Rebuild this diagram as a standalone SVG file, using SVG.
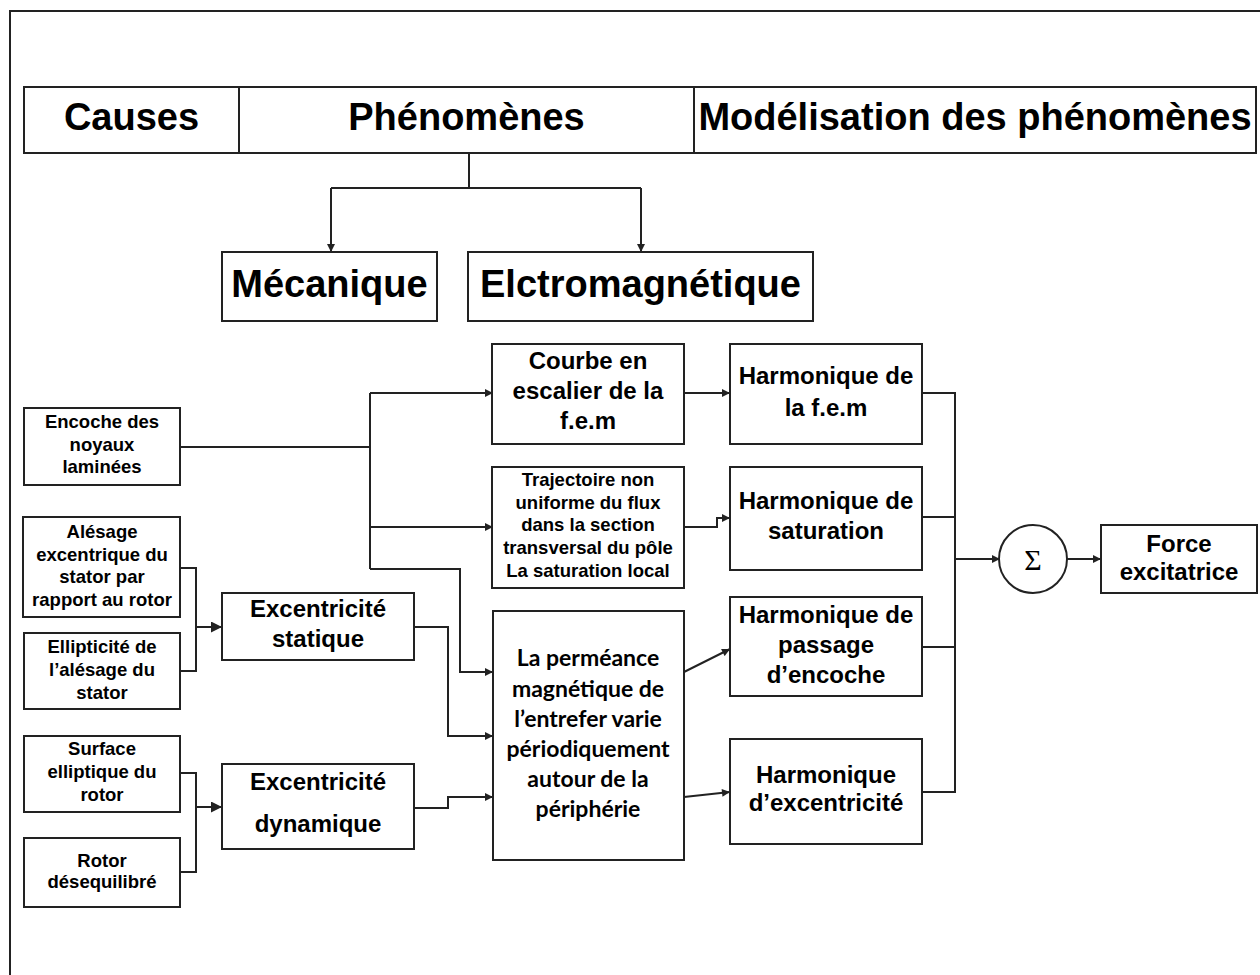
<svg xmlns="http://www.w3.org/2000/svg" width="1260" height="975" viewBox="0 0 1260 975">
<style>
.box{fill:#fff;stroke:#222;stroke-width:2}
.c{fill:none;stroke:#222;stroke-width:2}
.t{font-family:"Liberation Sans",Arial,sans-serif;font-weight:bold;fill:#000;text-anchor:middle}
.h{font-size:38px}
.m{font-size:24px}
.s{font-size:18.5px}
.p{font-family:Lato,"Liberation Sans",sans-serif;font-weight:bold;font-size:23px;fill:#000;text-anchor:middle}
</style>
<defs>
<marker id="a" viewBox="0 0 10 10" markerUnits="userSpaceOnUse" markerWidth="9" markerHeight="8" refX="10" refY="5" orient="auto"><path d="M0,0 L10,5 L0,10 z" fill="#222"/></marker>
<marker id="b" viewBox="0 0 10 10" markerUnits="userSpaceOnUse" markerWidth="12" markerHeight="11" refX="10" refY="5" orient="auto"><path d="M0,0 L10,5 L0,10 z" fill="#222"/></marker>
</defs>
<rect x="0" y="0" width="1260" height="975" fill="#fff"/>
<rect x="10" y="11" width="1260" height="980" fill="none" stroke="#222" stroke-width="2"/>

<g id="header">
<rect class="box" x="24" y="87" width="1232" height="66"/>
<line class="c" x1="239" y1="87" x2="239" y2="153"/>
<line class="c" x1="694" y1="87" x2="694" y2="153"/>
<text class="t h" x="131.5" y="130">Causes</text>
<text class="t h" x="466.5" y="130">Phénomènes</text>
<text class="t h" x="975" y="130">Modélisation des phénomènes</text>
</g>

<g id="connectors">
<path class="c" d="M469,153 V188 M331,188 H641"/>
<path class="c" d="M331,188 V252" marker-end="url(#a)"/>
<path class="c" d="M641,188 V252" marker-end="url(#a)"/>
<path class="c" d="M180,447 H370 M370,393 V569"/>
<path class="c" d="M370,393 H493" marker-end="url(#a)"/>
<path class="c" d="M370,527 H493" marker-end="url(#a)"/>
<path class="c" d="M370,569 H460 V672 H493" marker-end="url(#a)"/>
<path class="c" d="M684,393 H730" marker-end="url(#a)"/>
<path class="c" d="M684,527 H717 V518 H730" marker-end="url(#a)"/>
<path class="c" d="M180,568 H196 V671 H180"/>
<path class="c" d="M196,627 H222" marker-end="url(#b)"/>
<path class="c" d="M414,627 H448 V736 H493" marker-end="url(#a)"/>
<path class="c" d="M180,773 H196 V872 H180"/>
<path class="c" d="M196,807 H222" marker-end="url(#b)"/>
<path class="c" d="M414,808 H448 V797 H493" marker-end="url(#a)"/>
<path class="c" d="M684,672 L730,649" marker-end="url(#a)"/>
<path class="c" d="M684,797 L730,792" marker-end="url(#a)"/>
<path class="c" d="M922,393 H955 V792 H922 M922,517 H955 M922,647 H955"/>
<path class="c" d="M955,559 H1000" marker-end="url(#a)"/>
<path class="c" d="M1067,559 H1101" marker-end="url(#a)"/>
</g>

<g id="mecanique">
<rect class="box" x="222" y="252" width="215" height="69"/>
<text class="t h" x="329.5" y="297">Mécanique</text>
</g>
<g id="electromagnetique">
<rect class="box" x="468" y="252" width="345" height="69"/>
<text class="t h" x="640.5" y="297">Elctromagnétique</text>
</g>

<g id="encoche">
<rect class="box" x="24" y="408" width="156" height="77"/>
<text class="t s" x="102" y="428">Encoche des</text>
<text class="t s" x="102" y="451">noyaux</text>
<text class="t s" x="102" y="473">laminées</text>
</g>
<g id="alesage">
<rect class="box" x="23" y="517" width="157" height="100"/>
<text class="t s" x="102" y="538">Alésage</text>
<text class="t s" x="102" y="561">excentrique du</text>
<text class="t s" x="102" y="583">stator par</text>
<text class="t s" x="102" y="606">rapport au rotor</text>
</g>
<g id="ellipticite">
<rect class="box" x="24" y="633" width="156" height="76"/>
<text class="t s" x="102" y="653">Ellipticité de</text>
<text class="t s" x="102" y="676">l’alésage du</text>
<text class="t s" x="102" y="699">stator</text>
</g>
<g id="surface">
<rect class="box" x="24" y="736" width="156" height="76"/>
<text class="t s" x="102" y="755">Surface</text>
<text class="t s" x="102" y="778">elliptique du</text>
<text class="t s" x="102" y="801">rotor</text>
</g>
<g id="rotor">
<rect class="box" x="24" y="838" width="156" height="69"/>
<text class="t s" x="102" y="867">Rotor</text>
<text class="t s" x="102" y="888">désequilibré</text>
</g>

<g id="exc-statique">
<rect class="box" x="222" y="593" width="192" height="67"/>
<text class="t m" x="318" y="617">Excentricité</text>
<text class="t m" x="318" y="647">statique</text>
</g>
<g id="exc-dynamique">
<rect class="box" x="222" y="764" width="192" height="85"/>
<text class="t m" x="318" y="790">Excentricité</text>
<text class="t m" x="318" y="832">dynamique</text>
</g>

<g id="courbe">
<rect class="box" x="492" y="344" width="192" height="100"/>
<text class="t m" x="588" y="369">Courbe en</text>
<text class="t m" x="588" y="399">escalier de la</text>
<text class="t m" x="588" y="429">f.e.m</text>
</g>
<g id="trajectoire">
<rect class="box" x="492" y="467" width="192" height="121"/>
<text class="t s" x="588" y="486">Trajectoire non</text>
<text class="t s" x="588" y="509">uniforme du flux</text>
<text class="t s" x="588" y="531">dans la section</text>
<text class="t s" x="588" y="554">transversal du pôle</text>
<text class="t s" x="588" y="577">La saturation local</text>
</g>
<g id="permeance">
<rect class="box" x="493" y="611" width="191" height="249"/>
<text class="p" x="588" y="666">La perméance</text>
<text class="p" x="588" y="697">magnétique de</text>
<text class="p" x="588" y="727">l’entrefer varie</text>
<text class="p" x="588" y="757">périodiquement</text>
<text class="p" x="588" y="787">autour de la</text>
<text class="p" x="588" y="817">périphérie</text>
</g>

<g id="harm-fem">
<rect class="box" x="730" y="344" width="192" height="100"/>
<text class="t m" x="826" y="384">Harmonique de</text>
<text class="t m" x="826" y="416">la f.e.m</text>
</g>
<g id="harm-saturation">
<rect class="box" x="730" y="467" width="192" height="103"/>
<text class="t m" x="826" y="509">Harmonique de</text>
<text class="t m" x="826" y="539">saturation</text>
</g>
<g id="harm-passage">
<rect class="box" x="730" y="597" width="192" height="99"/>
<text class="t m" x="826" y="623">Harmonique de</text>
<text class="t m" x="826" y="653">passage</text>
<text class="t m" x="826" y="683">d’encoche</text>
</g>
<g id="harm-excentricite">
<rect class="box" x="730" y="739" width="192" height="105"/>
<text class="t m" x="826" y="783">Harmonique</text>
<text class="t m" x="826" y="811">d’excentricité</text>
</g>

<g id="sum">
<circle class="box" cx="1033" cy="559" r="34"/>
<text x="1033" y="570" font-family="'Liberation Serif',serif" font-size="30" text-anchor="middle" fill="#000">Σ</text>
</g>
<g id="force">
<rect class="box" x="1101" y="525" width="156" height="68"/>
<text class="t m" x="1179" y="552">Force</text>
<text class="t m" x="1179" y="580">excitatrice</text>
</g>
</svg>
